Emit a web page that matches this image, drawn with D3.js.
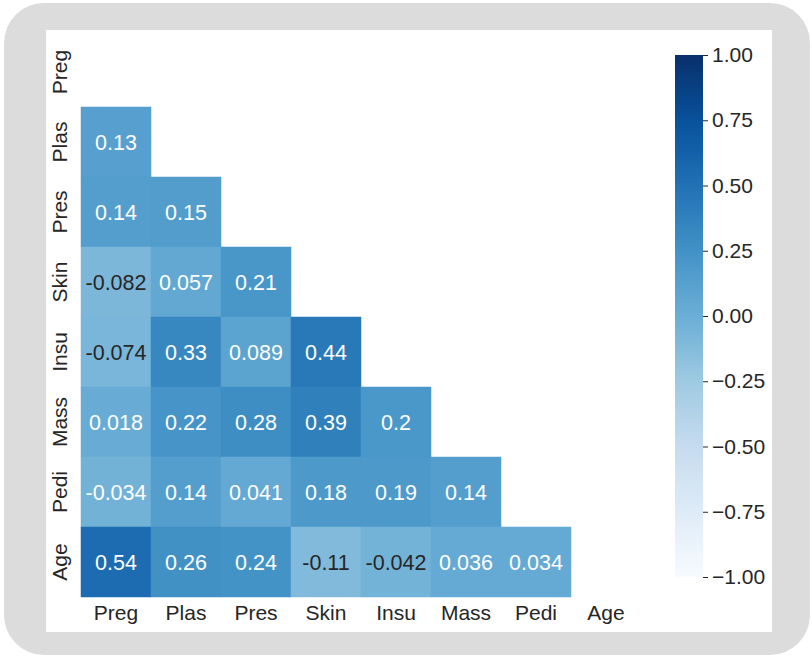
<!DOCTYPE html>
<html>
<head>
<meta charset="utf-8">
<script src="https://cdn.jsdelivr.net/npm/d3@7"></script>
<style>
  html, body { margin: 0; padding: 0; background: #ffffff; }
  svg { display: block; }
  text { font-family: "Liberation Sans", Arial, sans-serif; }
</style>
</head>
<body>
<svg id="chart" width="812" height="658"></svg>
<script>
// ---- data ----
const variables = ["Preg", "Plas", "Pres", "Skin", "Insu", "Mass", "Pedi", "Age"];
// lower triangle of the correlation matrix (row i, columns 0..i-1)
const corrLower = [
  [],
  [0.13],
  [0.14, 0.15],
  [-0.082, 0.057, 0.21],
  [-0.074, 0.33, 0.089, 0.44],
  [0.018, 0.22, 0.28, 0.39, 0.2],
  [-0.034, 0.14, 0.041, 0.18, 0.19, 0.14],
  [0.54, 0.26, 0.24, -0.11, -0.042, 0.036, 0.034]
];
const colorbarTicks = [-1.0, -0.75, -0.5, -0.25, 0.0, 0.25, 0.5, 0.75, 1.0];
const bluesStops = ["#f7fbff", "#deebf7", "#c6dbef", "#9ecae1", "#6baed6", "#4292c6", "#2171b5", "#08519c", "#08306b"];

// ---- layout ----
const svg = d3.select("#chart");
const heat = { left: 81, right: 641, top: 37, bottom: 597 };
const cbar = { left: 675, width: 28, top: 55, bottom: 577 };
const labelSize = 21;
const annotSize = 21.5;
const textDark = "#262626";

// frame
svg.append("rect").attr("x", 4).attr("y", 3).attr("width", 806).attr("height", 652)
  .attr("rx", 40).attr("ry", 40).attr("fill", "#dcdcdc");
svg.append("rect").attr("x", 46).attr("y", 30).attr("width", 726).attr("height", 602)
  .attr("fill", "#ffffff");

// scales
const x = d3.scaleBand().domain(variables).range([heat.left, heat.right]);
const y = d3.scaleBand().domain(variables).range([heat.top, heat.bottom]);
const color = d3.scaleLinear()
  .domain(bluesStops.map((d, i) => -1 + 2 * i / (bluesStops.length - 1)))
  .range(bluesStops)
  .interpolate(d3.interpolateRgb)
  .clamp(true);

const annotFmt = d3.formatLocale({ decimal: ".", thousands: ",", grouping: [3], currency: ["", ""], minus: "-" }).format(".2~g");

function textColorFor(c) {
  const rgb = d3.rgb(c);
  const lin = [rgb.r, rgb.g, rgb.b].map(v => {
    v = v / 255;
    return v <= 0.03928 ? v / 12.92 : Math.pow((v + 0.055) / 1.055, 2.4);
  });
  const lum = 0.2126 * lin[0] + 0.7152 * lin[1] + 0.0722 * lin[2];
  return lum > 0.408 ? textDark : "#ffffff";
}

const cells = [];
corrLower.forEach((row, i) => {
  row.forEach((v, j) => cells.push({ row: variables[i], col: variables[j], value: v }));
});

const g = svg.append("g");
g.selectAll("rect.cell").data(cells).enter().append("rect")
  .attr("class", "cell")
  .attr("x", d => x(d.col))
  .attr("y", d => y(d.row))
  .attr("width", x.bandwidth())
  .attr("height", y.bandwidth())
  .attr("fill", d => color(d.value))
  .attr("stroke", d => color(d.value))
  .attr("stroke-width", 0.5);

g.selectAll("text.annot").data(cells).enter().append("text")
  .attr("class", "annot")
  .attr("x", d => x(d.col) + x.bandwidth() / 2)
  .attr("y", d => y(d.row) + y.bandwidth() / 2)
  .attr("dy", "0.36em")
  .attr("text-anchor", "middle")
  .attr("font-size", annotSize)
  .attr("fill", d => textColorFor(color(d.value)))
  .text(d => annotFmt(d.value));

// x tick labels
svg.selectAll("text.xlab").data(variables).enter().append("text")
  .attr("class", "xlab")
  .attr("x", d => x(d) + x.bandwidth() / 2)
  .attr("y", 620)
  .attr("text-anchor", "middle")
  .attr("font-size", labelSize)
  .attr("fill", textDark)
  .text(d => d);

// y tick labels (rotated)
svg.selectAll("text.ylab").data(variables).enter().append("text")
  .attr("class", "ylab")
  .attr("transform", d => `translate(67,${y(d) + y.bandwidth() / 2}) rotate(-90)`)
  .attr("text-anchor", "middle")
  .attr("font-size", labelSize)
  .attr("fill", textDark)
  .text(d => d);

// colorbar
const cy = d3.scaleLinear().domain([-1, 1]).range([cbar.bottom, cbar.top]);
const defs = svg.append("defs");
const grad = defs.append("linearGradient").attr("id", "cbgrad")
  .attr("x1", 0).attr("y1", 1).attr("x2", 0).attr("y2", 0);
d3.range(0, 1.0001, 0.02).forEach(t => {
  grad.append("stop").attr("offset", t).attr("stop-color", color(-1 + 2 * t));
});
svg.append("rect")
  .attr("x", cbar.left).attr("y", cbar.top)
  .attr("width", cbar.width).attr("height", cbar.bottom - cbar.top)
  .attr("fill", "url(#cbgrad)");

const cbAxis = d3.axisRight(cy).tickValues(colorbarTicks).tickFormat(d3.format(".2f")).tickSize(5).tickPadding(4);
const cbG = svg.append("g").attr("transform", `translate(${cbar.left + cbar.width},0)`).call(cbAxis);
cbG.select(".domain").remove();
cbG.selectAll(".tick line").attr("stroke", textDark).attr("stroke-width", 1);
cbG.selectAll(".tick text").attr("font-size", labelSize).attr("fill", textDark)
  .attr("font-family", "'Liberation Sans', Arial, sans-serif");
</script>
</body>
</html>
